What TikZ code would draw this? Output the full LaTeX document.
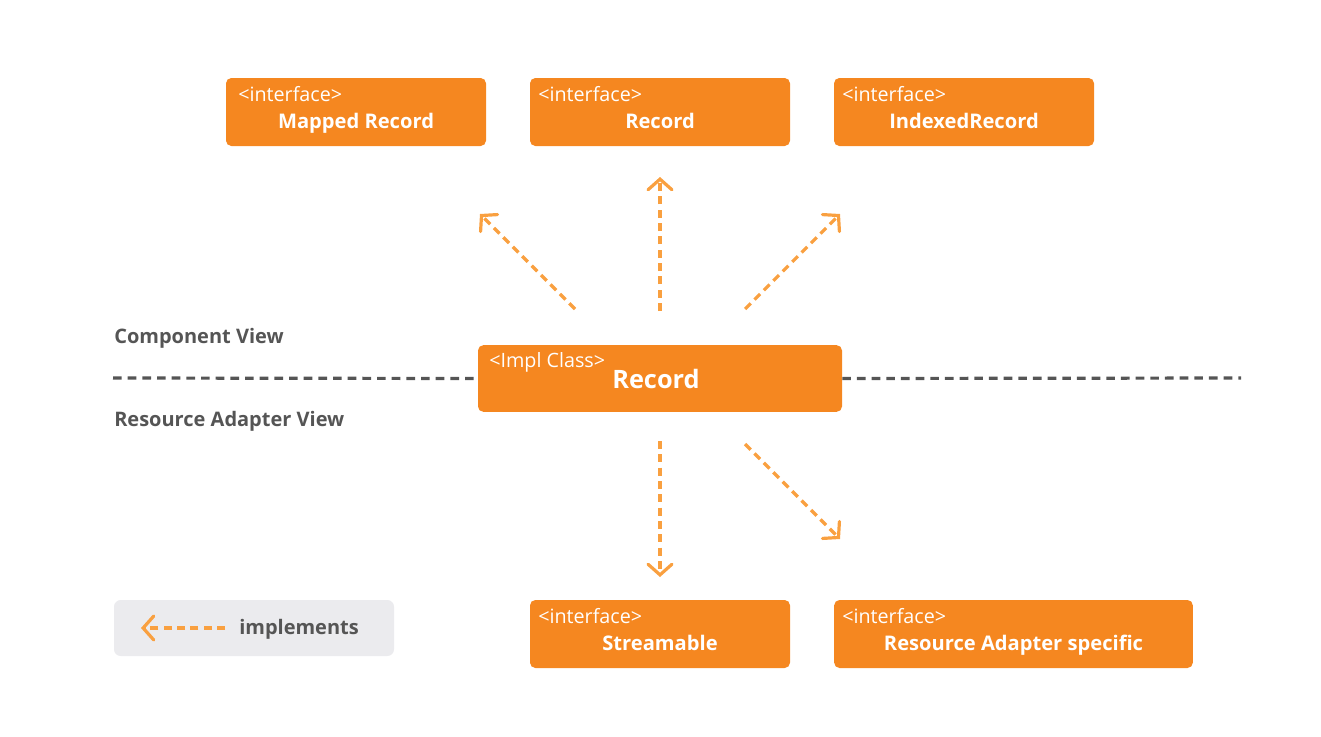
\documentclass[tikz,border=0pt]{standalone}
\usepackage{fontspec}
\setmainfont{Open Sans}
\usetikzlibrary{arrows.meta}
\definecolor{boxorange}{HTML}{F58720}
\definecolor{arroworange}{HTML}{F9A040}
\definecolor{labelgray}{HTML}{555555}
\definecolor{legendgray}{HTML}{EBEBEE}
\begin{document}
\begin{tikzpicture}[x=0.75pt,y=-0.75pt,
  ibox/.style={fill=boxorange,draw=none,rounded corners=4pt,inner sep=0pt},
  stereo/.style={anchor=base west,text=white,font=\fontsize{14.8}{17}\selectfont,inner sep=0pt},
  title/.style={anchor=base,text=white,font=\bfseries\fontsize{15.1}{18}\selectfont,inner sep=0pt},
  impl/.style={draw=arroworange,line width=2.4pt,dash pattern=on 6pt off 4pt,
    -{Straight Barb[length=8pt,width=18pt,line width=2.4pt,line cap=round]}},
  sep/.style={draw=labelgray,line width=2.4pt,dash pattern=on 6.5pt off 4.5pt},
  viewlabel/.style={anchor=base west,text=labelgray,font=\bfseries\fontsize{15}{18}\selectfont,inner sep=0pt}]
\useasboundingbox (0,0) rectangle (1321,736);
% top boxes
\node[ibox,minimum width=195pt,minimum height=51pt] (mapped) at (356,112) {};
\node[stereo] at (238,101) {<interface>};
\node[title] at (356,128) {Mapped Record};
\node[ibox,minimum width=195pt,minimum height=51pt] (rec) at (660,112) {};
\node[stereo] at (538,101) {<interface>};
\node[title] at (660,128) {Record};
\node[ibox,minimum width=195pt,minimum height=51pt] (indexed) at (964,112) {};
\node[stereo] at (842,101) {<interface>};
\node[title] at (964,128) {IndexedRecord};
% impl box
\node[ibox,minimum width=273pt,minimum height=50pt] (impl) at (660,378.5) {};
\node[stereo] at (489,367) {<Impl Class>};
\node[anchor=base,text=white,font=\bfseries\fontsize{19}{22}\selectfont,inner sep=0pt] at (656,388) {Record};
% bottom boxes
\node[ibox,minimum width=195pt,minimum height=51pt] (stream) at (660,634) {};
\node[stereo] at (538,623) {<interface>};
\node[title] at (660,650) {Streamable};
\node[ibox,minimum width=269pt,minimum height=51pt] (radapter) at (1013.5,634) {};
\node[stereo] at (842,623) {<interface>};
\node[title] at (1013.5,650) {Resource Adapter specific};
% separator line
\coordinate (sepL) at (113,378);
\coordinate (sepR) at (1241,378);
\draw[sep] (sepL) -- (impl.west);
\draw[sep] (impl.east) -- (sepR);
\node[viewlabel] (cv) at (114,343) {Component View};
\node[viewlabel] (rav) at (114,426) {Resource Adapter View};
% arrows
\coordinate (a1s) at (575,309); \coordinate (a1e) at (480,214);
\coordinate (a2s) at (660,311); \coordinate (a2e) at (660,177);
\coordinate (a3s) at (745,309); \coordinate (a3e) at (840,214);
\coordinate (a4s) at (660,441); \coordinate (a4e) at (660,577);
\coordinate (a5s) at (745,444); \coordinate (a5e) at (840,539);
\draw[impl] (a1s) -- (a1e);
\draw[impl] (a2s) -- (a2e);
\draw[impl] (a3s) -- (a3e);
\draw[impl] (a4s) -- (a4e);
\draw[impl] (a5s) -- (a5e);
% legend
\node[fill=legendgray,rounded corners=5pt,minimum width=210pt,minimum height=42pt,inner sep=0pt] (legend) at (254,628) {};
\coordinate (ls) at (225,628); \coordinate (le) at (141,628);
\draw[impl] (ls) -- (le);
\node[viewlabel] at (239,634) {implements};
\end{tikzpicture}
\end{document}
